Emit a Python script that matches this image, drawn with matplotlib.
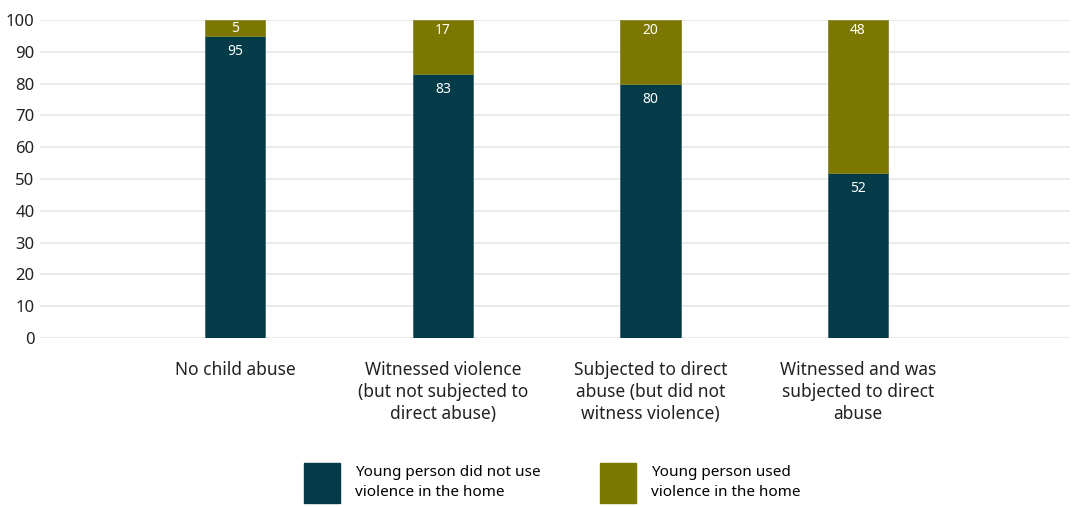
import numpy as np
import matplotlib
matplotlib.use("Agg")
from matplotlib import pyplot as plt
from matplotlib.patches import Patch

plt.rcParams['font.family'] = ['Noto Sans', 'DejaVu Sans']

categories = ["No child abuse",
              "Witnessed violence\n(but not subjected to\ndirect abuse)",
              "Subjected to direct\nabuse (but did not\nwitness violence)",
              "Witnessed and was\nsubjected to direct\nabuse"]
did_not_use = [95, 83, 80, 52]
used = [5, 17, 20, 48]
series_names = ["Young person did not use\nviolence in the home",
                "Young person used\nviolence in the home"]

blue = "#033c48"
olive = "#7b7700"

fig = plt.figure(figsize=(10.73, 5.07), dpi=100)
ax = fig.add_axes([40/1073, 1-338/507, 1030/1073, 318/507])

x = np.arange(len(categories))
w = 0.29
ax.bar(x, did_not_use, w, color=blue, edgecolor="#3f6672", linewidth=0.6, zorder=3)
ax.bar(x, used, w, bottom=did_not_use, color=olive, edgecolor="#8a8630", linewidth=0.6, zorder=3)

for i in range(len(x)):
    ax.annotate(str(did_not_use[i]), (x[i], did_not_use[i]), xytext=(0, -6),
                textcoords="offset points", ha="center", va="top",
                color="white", fontsize=10, fontweight="light", zorder=4)
    top_off = -1 if used[i] < 10 else -2.5
    ax.annotate(str(used[i]), (x[i], did_not_use[i] + used[i]), xytext=(0, top_off),
                textcoords="offset points", ha="center", va="top",
                color="white", fontsize=10, fontweight="light", zorder=4)

ax.set_ylim(0, 100)
ax.set_xlim(-0.94, 4.02)
ax.set_yticks(range(0, 101, 10))
ax.set_xticks(x)
ax.set_xticklabels(categories, fontsize=12.5, linespacing=1.3, color="#222222")
ax.tick_params(axis="x", length=0, pad=16.5)
ax.tick_params(axis="y", length=0, pad=4, labelsize=12, labelcolor="#222222")
ax.grid(axis="y", color="#ebebeb", linewidth=1.4, zorder=0)
ax.set_axisbelow(True)
for s in ax.spines.values():
    s.set_visible(False)

handles = [Patch(facecolor=blue, edgecolor=blue), Patch(facecolor=olive, edgecolor=olive)]
leg = fig.legend(handles, series_names, loc="lower left", bbox_to_anchor=(296/1073, -4/507),
                 ncol=2, frameon=False, fontsize=11, handlelength=2.35, handleheight=3.65,
                 handletextpad=1.0, columnspacing=3.9, borderaxespad=0.1, labelspacing=0)
for t in leg.get_texts():
    t.set_linespacing(1.45)

fig.savefig("out.png", dpi=100)
